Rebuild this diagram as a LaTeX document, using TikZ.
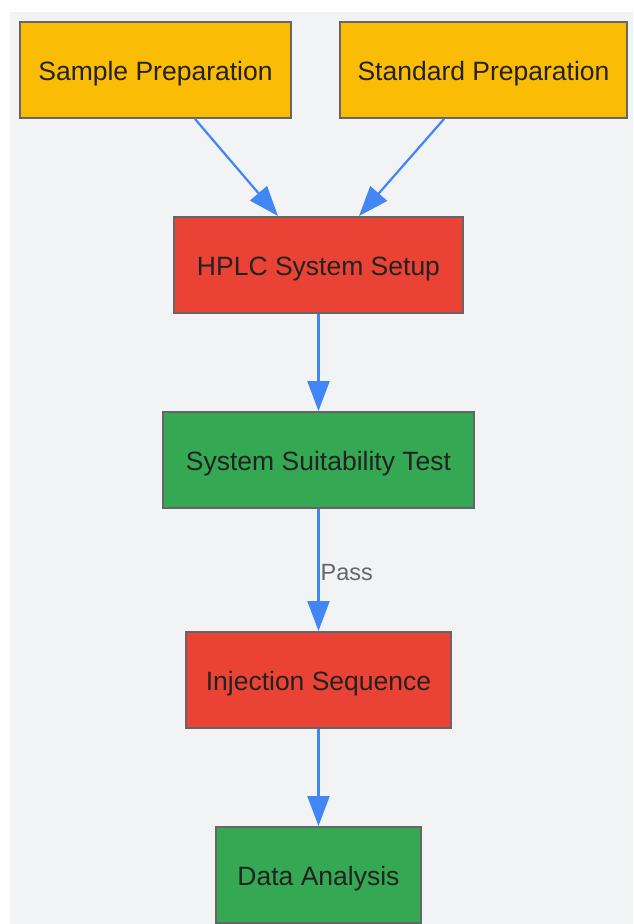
\documentclass[tikz,border=0pt]{standalone}
\usepackage{fontspec}
\setmainfont{Liberation Sans}
\usetikzlibrary{arrows.meta}
\definecolor{bggray}{HTML}{F1F3F5}
\definecolor{prepyellow}{HTML}{FBBC05}
\definecolor{runred}{HTML}{EA4335}
\definecolor{checkgreen}{HTML}{34A853}
\definecolor{flowblue}{HTML}{4285F4}
\definecolor{edgegray}{HTML}{666666}
\definecolor{textdark}{HTML}{222222}
\tikzset{
  stepbox/.style={draw=edgegray, line width=2pt, rectangle, minimum height=96pt,
    inner sep=0pt, text height=21pt, text depth=0pt, text=textdark,
    font=\fontsize{26.5}{31}\selectfont},
  flow/.style={draw=flowblue, line width=2.2pt, -{Triangle[length=30pt,width=22pt]}},
}
\begin{document}
\begin{tikzpicture}[x=1pt,y=-1pt]
\useasboundingbox (0,0) rectangle (633,924);
\fill[bggray] (10,12) rectangle (633,924);

\node[stepbox, fill=prepyellow, minimum width=271pt] (sample) at (155.5,70) {Sample Preparation};
\node[stepbox, fill=prepyellow, minimum width=287pt] (standard) at (483.5,70) {Standard Preparation};
\node[stepbox, fill=runred, minimum width=289pt] (hplc) at (318.5,265) {HPLC System Setup};
\node[stepbox, fill=checkgreen, minimum width=311pt] (sst) at (318.5,460) {System Suitability Test};
\node[stepbox, fill=runred, minimum width=265pt] (inject) at (318.5,680) {Injection Sequence};
\node[stepbox, fill=checkgreen, minimum width=205pt] (data) at (318.5,875) {Data Analysis};

\path[flow] ([xshift=39.5pt]sample.south) -- ([xshift=-40.5pt]hplc.north);
\path[flow] ([xshift=-39.5pt]standard.south) -- ([xshift=40.5pt]hplc.north);
\path[flow] (hplc) -- (sst);
\path[flow] (sst) -- node[right=0pt, inner sep=1pt, yshift=-3pt, text=edgegray, font=\fontsize{23.5}{28}\selectfont] (pass) {Pass} (inject);
\path[flow] (inject) -- (data);
\end{tikzpicture}
\end{document}
